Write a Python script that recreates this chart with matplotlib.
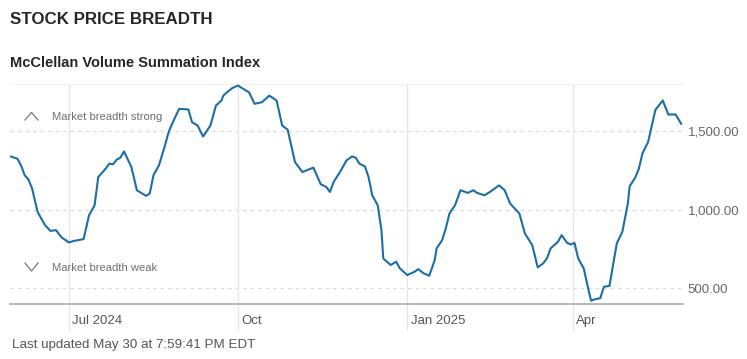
import matplotlib
matplotlib.use("Agg")
import matplotlib.pyplot as plt
import matplotlib.transforms as mtransforms
from matplotlib.lines import Line2D
import pandas as pd

# McClellan Volume Summation Index
dates = [
    "2024-05-30", "2024-06-03", "2024-06-05", "2024-06-07", "2024-06-09", "2024-06-11",
    "2024-06-14", "2024-06-18", "2024-06-21", "2024-06-24", "2024-06-27", "2024-07-01",
    "2024-07-04", "2024-07-09", "2024-07-12", "2024-07-15", "2024-07-17", "2024-07-21",
    "2024-07-23", "2024-07-25", "2024-07-27", "2024-07-29", "2024-07-31", "2024-08-04",
    "2024-08-07", "2024-08-12", "2024-08-14", "2024-08-16", "2024-08-19", "2024-08-22",
    "2024-08-24", "2024-08-25", "2024-08-27", "2024-08-30", "2024-09-04", "2024-09-06",
    "2024-09-09", "2024-09-12", "2024-09-16", "2024-09-19", "2024-09-22", "2024-09-23",
    "2024-09-25", "2024-09-28", "2024-10-01", "2024-10-03", "2024-10-07", "2024-10-10",
    "2024-10-14", "2024-10-18", "2024-10-22", "2024-10-25", "2024-10-28", "2024-11-01",
    "2024-11-05", "2024-11-11", "2024-11-15", "2024-11-18", "2024-11-20", "2024-11-22",
    "2024-11-26", "2024-11-29", "2024-12-02", "2024-12-04", "2024-12-06", "2024-12-09",
    "2024-12-11", "2024-12-13", "2024-12-16", "2024-12-18", "2024-12-19", "2024-12-23",
    "2024-12-26", "2024-12-28", "2025-01-01", "2025-01-05", "2025-01-07", "2025-01-10",
    "2025-01-13", "2025-01-16", "2025-01-17", "2025-01-20", "2025-01-22", "2025-01-24",
    "2025-01-27", "2025-01-30", "2025-02-03", "2025-02-06", "2025-02-08", "2025-02-12",
    "2025-02-15", "2025-02-20", "2025-02-23", "2025-02-26", "2025-03-03", "2025-03-06",
    "2025-03-10", "2025-03-13", "2025-03-16", "2025-03-18", "2025-03-20", "2025-03-24",
    "2025-03-26", "2025-03-29", "2025-03-31", "2025-04-02", "2025-04-04", "2025-04-07",
    "2025-04-09", "2025-04-11", "2025-04-13", "2025-04-16", "2025-04-18", "2025-04-21",
    "2025-04-25", "2025-04-28", "2025-05-01", "2025-05-02", "2025-05-05", "2025-05-07",
    "2025-05-09", "2025-05-12", "2025-05-16", "2025-05-20", "2025-05-23", "2025-05-27",
    "2025-05-30",
]
values = [
    1340, 1325, 1282, 1219, 1193, 1136,
    986, 902, 865, 870, 824, 792,
    802, 813, 965, 1028, 1208, 1261,
    1293, 1289, 1318, 1331, 1371, 1272,
    1124, 1088, 1103, 1219, 1282, 1398,
    1483, 1515, 1568, 1642, 1638, 1557,
    1536, 1466, 1536, 1663, 1695, 1726,
    1747, 1775, 1790, 1775, 1747, 1674,
    1684, 1726, 1695, 1536, 1509, 1303,
    1240, 1268, 1162, 1145, 1113, 1176,
    1251, 1314, 1339, 1331, 1293, 1276,
    1208, 1092, 1028, 870, 690, 648,
    669, 627, 584, 605, 622, 595,
    580, 680, 754, 806, 881, 976,
    1028, 1124, 1107, 1124, 1107, 1092,
    1113, 1155, 1124, 1039, 976, 849,
    775, 633, 659, 690, 754, 796,
    838, 789, 779, 789, 690, 627,
    521, 421, 430, 437, 510, 515,
    786, 859, 1039, 1149, 1204, 1261,
    1360, 1430, 1636, 1695, 1606, 1606,
    1547,
]

tick_dates = ["2024-07-01", "2024-10-01", "2025-01-01", "2025-04-01"]
tick_labels = ["Jul 2024", "Oct", "Jan 2025", "Apr"]
y_ticks = [500, 1000, 1500]
y_labels = ["500.00", "1,000.00", "1,500.00"]

W, H = 747, 359
plt.rcParams['font.family'] = ['Liberation Sans', 'DejaVu Sans']

fig = plt.figure(figsize=(W / 100, H / 100), dpi=100)
fig.patch.set_facecolor('white')


def fx(px):
    return px / W


def fy(py):
    return 1 - py / H


ax = fig.add_axes([fx(10), fy(304), fx(683) - fx(10), fy(84) - fy(304)])

x = pd.to_datetime(dates)
ax.plot(x, values, color='#1b6ea6', lw=1.5, solid_joinstyle='round', zorder=3)

ax.set_xlim(pd.Timestamp("2024-05-30"), pd.Timestamp("2025-05-31"))
ax.set_ylim(400, 1800)

# horizontal dashed grid
for v in y_ticks:
    ax.axhline(v, color='#dcdcdc', lw=0.9, ls=(0, (3, 3)), zorder=1)

# vertical month lines running below the axis
for d in tick_dates:
    ax.axvline(pd.Timestamp(d), ymin=-0.12, ymax=1, color='#e6e6e6', lw=0.9,
               clip_on=False, zorder=1)

for s in ['left', 'right']:
    ax.spines[s].set_visible(False)
ax.spines['top'].set_color('#f0f0f0')
ax.spines['top'].set_linewidth(0.8)
ax.spines['bottom'].set_color('#b3b3b3')
ax.spines['bottom'].set_linewidth(1.3)

ax.set_xticks(pd.to_datetime(tick_dates))
ax.set_xticklabels(tick_labels)
ax.tick_params(axis='x', length=0, pad=8, labelsize=9.5, labelcolor='#555555')
offset = mtransforms.ScaledTranslation(3.5 / 100, 0, fig.dpi_scale_trans)
for lab in ax.get_xticklabels():
    lab.set_horizontalalignment('left')
    lab.set_transform(lab.get_transform() + offset)

ax.yaxis.tick_right()
ax.set_yticks(y_ticks)
ax.set_yticklabels(y_labels)
ax.tick_params(axis='y', length=0, pad=3.5, labelsize=9.5, labelcolor='#666666')

# titles
fig.text(fx(10), fy(19), "STOCK PRICE BREADTH", fontsize=12.2, fontweight='bold',
         color='#262626', va='center', ha='left')
fig.text(fx(10), fy(63), "McClellan Volume Summation Index", fontsize=10.5,
         fontweight='bold', color='#262626', va='center', ha='left')

# breadth annotations with chevrons
fig.text(fx(52), fy(117.5), "Market breadth strong", fontsize=8.1, color='#707070',
         va='center', ha='left')
fig.text(fx(52), fy(268), "Market breadth weak", fontsize=8.1, color='#707070',
         va='center', ha='left')
fig.add_artist(Line2D([fx(25), fx(31.5), fx(38)], [fy(120), fy(112.5), fy(120)],
                      color='#777777', lw=0.9))
fig.add_artist(Line2D([fx(25), fx(31.5), fx(38)], [fy(263), fy(271), fy(263)],
                      color='#777777', lw=0.9))

fig.text(fx(12), fy(345), "Last updated May 30 at 7:59:41 PM EDT", fontsize=9.6,
         color='#555555', va='center', ha='left')

fig.savefig('out.png', dpi=100, facecolor='white')
